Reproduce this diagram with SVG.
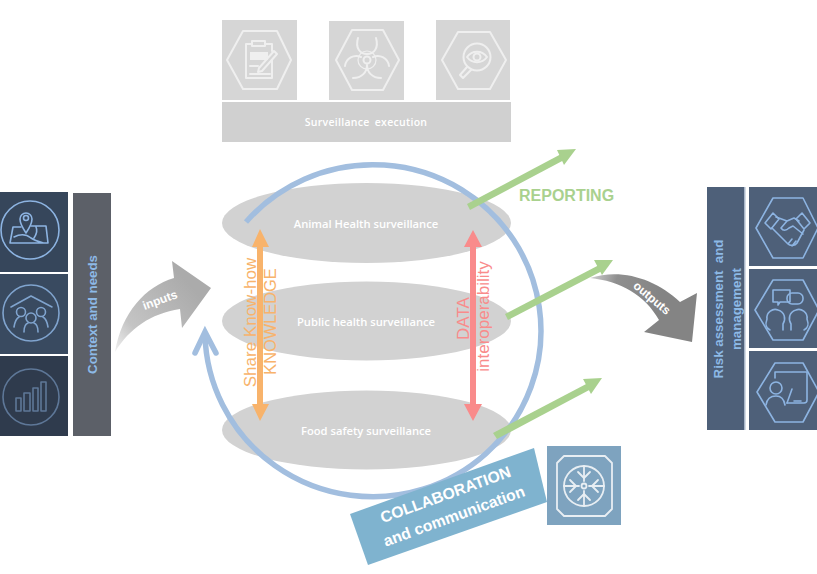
<svg xmlns="http://www.w3.org/2000/svg" width="817" height="574" viewBox="0 0 817 574">
<style>
text{font-family:"Liberation Sans",Arial,sans-serif}
.ell{fill:#d2d2d2}
.lbl{fill:#fff;font-family:"Open Sans","Liberation Sans",sans-serif;font-size:11.200px;font-weight:600;text-anchor:middle;dominant-baseline:central}
.ic{fill:none;stroke-linejoin:round;stroke-linecap:round}
.top{stroke:#efefef;stroke-width:2}
.rgt{stroke:#8db4e2;stroke-width:1.600}
.lft{stroke:#8db4e2;stroke-width:1.600}
.mid{text-anchor:middle;dominant-baseline:central}
.ora{fill:#f8b36b;font-size:17px}
.red{fill:#f98b8b;font-size:17px}
.grn{fill:#a9d18e}
</style>
<defs>
<linearGradient id="ing" gradientUnits="userSpaceOnUse" x1="115" y1="352" x2="190" y2="285">
<stop offset="0" stop-color="#f0f0f0"/><stop offset="0.3" stop-color="#c4c4c4"/><stop offset="1" stop-color="#ababab"/>
</linearGradient>
<linearGradient id="outg" gradientUnits="userSpaceOnUse" x1="590" y1="278" x2="660" y2="300">
<stop offset="0" stop-color="#cfcfcf"/><stop offset="0.35" stop-color="#8f8f8f"/><stop offset="1" stop-color="#848484"/>
</linearGradient>
</defs>

<g id="surveillance-execution">
<rect x="222" y="20" width="75" height="80" fill="#d6d6d6"/>
<rect x="329" y="21" width="75" height="79" fill="#d6d6d6"/>
<rect x="436" y="20" width="74" height="80" fill="#d6d6d6"/>
<rect x="222" y="102" width="289" height="40" fill="#d0d0d0"/>
<text class="lbl" x="366" y="122" style="font-size:10.500px;word-spacing:2px;letter-spacing:.3px">Surveillance execution</text>
<g class="ic top">
<path d="M227 60L243 31H277L291 60L277 89H243Z"/>
<path d="M252 44H246V78H272V60M265 44H272V51M252 41H265V46H252Z"/>
<path d="M250 52H268V60H250Z" fill="#efefef" stroke="none"/>
<path d="M250 66H258M250 74H270"/>
<path d="M259 68L274 51L277 54L262 71L258 72Z"/>
</g>
<g class="ic top">
<path d="M336 60L352 30H383L399 60L383 90H352Z"/>
<circle cx="367" cy="60" r="3.500"/>
<path d="M358 38C355 48 360 54 367 54C374 54 379 48 376 38"/>
<path d="M345 66C346 58 354 54 361 57M389 66C388 58 380 54 373 57"/>
<path d="M353 78C362 78 367 72 367 65C367 72 372 78 381 78"/>
<circle cx="367" cy="60" r="9" stroke-width="1.200"/>
</g>
<g class="ic top">
<path d="M442 60L458 32H490L506 60L490 89H458Z"/>
<circle cx="477" cy="57" r="13.500"/>
<path d="M467 67L460 75L463 78L471 70"/>
<path d="M467 57C472 50 482 50 487 57C482 64 472 64 467 57Z"/>
<circle cx="477" cy="57" r="3.500"/>
</g>
</g>

<g id="animal-health"><ellipse class="ell" cx="366.500" cy="223" rx="144.500" ry="40"/>
<text class="lbl" x="366" y="223">Animal Health surveillance</text></g>
<g id="public-health"><ellipse class="ell" cx="366.500" cy="321" rx="144.500" ry="39.500"/>
<text class="lbl" x="366" y="321">Public health surveillance</text></g>
<g id="food-safety"><ellipse class="ell" cx="366.500" cy="430" rx="144.500" ry="39.500"/>
<text class="lbl" x="366" y="430">Food safety surveillance</text></g>

<g id="context-needs">
<rect x="0" y="192" width="68" height="80" fill="#36465b"/>
<rect x="0" y="274" width="68" height="80" fill="#394a60"/>
<rect x="0" y="356" width="68" height="80" fill="#2f3b4d"/>
<rect x="73" y="193" width="38" height="243" fill="#5c6068"/>
<text transform="translate(92 314.500) rotate(-90)" class="mid" fill="#8db9e6" font-size="13.300" font-weight="bold">Context and needs</text>
<g class="ic lft">
<circle cx="30" cy="230" r="29"/>
<path d="M26 233C22 227 20 223 20 219A6 6 0 0 1 32 219C32 223 30 227 26 233Z"/>
<circle cx="26" cy="218" r="2.500"/>
<path d="M21 227H13L10 243H48L46 226H31M14 237C20 234 26 234 31 238C35 241 40 242 44 243M36 227C38 231 36 235 34 238"/>
</g>
<g class="ic lft" opacity=".85">
<circle cx="31" cy="313" r="28"/>
<path d="M11 307L31 296L52 307"/>
<circle cx="21" cy="312" r="4.500"/><circle cx="41" cy="312" r="4.500"/><circle cx="31" cy="318" r="5"/>
<path d="M14 327C15 321 17 318 19 317M48 327C47 321 45 318 43 317M24 332C24 327 25 324 28 323M38 332C38 327 37 324 34 323"/>
</g>
<g class="ic lft" opacity=".5">
<circle cx="31" cy="397" r="28"/>
<rect x="16" y="398" width="5" height="13"/><rect x="24" y="393" width="6" height="18"/><rect x="33" y="388" width="5" height="23"/><rect x="41" y="382" width="5" height="29"/>
</g>
</g>

<g id="risk-assessment">
<rect x="707" y="187" width="38" height="243" fill="#4e6079"/>
<rect x="744" y="187" width="1.500" height="243" fill="#a9b7c9"/>
<rect x="749" y="187" width="68" height="79" fill="#4e6079"/>
<rect x="749" y="269" width="68" height="79" fill="#4e6079"/>
<rect x="749" y="351" width="68" height="79" fill="#4e6079"/>
<text transform="translate(718 309) rotate(-90)" class="mid" fill="#8db9e6" font-size="13.300" font-weight="bold" xml:space="preserve">Risk assessment  and</text>
<text transform="translate(736 309) rotate(-90)" class="mid" fill="#8db9e6" font-size="13.300" font-weight="bold">management</text>
<g class="ic rgt">
<path d="M756 228L773 198H803L818 228L803 258H773Z"/>
<path d="M765 223L773 213L779 219L771 229ZM810 223L802 213L796 219L804 229Z"/>
<path d="M776 217L787 221L794 218L799 221M772 228L788 244C790 246 795 246 797 243L804 230M787 221L781 228C783 231 786 231 789 228L793 226L803 234M788 244L792 239M792 246L796 241"/>
</g>
<g class="ic rgt">
<path d="M755 310L773 280H803L819 310L803 340H773Z"/>
<path d="M773 290H790V302H780L778 305V302H773Z"/>
<rect x="787" y="293" width="16" height="11" rx="5"/>
<path d="M770 330C764 327 766 322 767 319C766 312 773 308 778 310C785 312 786 319 783 324V330"/>
<path d="M804 330C810 327 808 322 807 319C808 312 801 308 796 310C789 312 788 319 791 324V330"/>
</g>
<g class="ic rgt">
<path d="M757 392L775 363H803L819 392L803 422H775Z"/>
<path d="M775 378V372H807V400C807 402 806 403 804 403H787"/>
<circle cx="776" cy="388" r="6"/>
<path d="M766 405C767 398 771 396 776 396C781 396 784 399 785 405M787 403L792 389M794 401H801"/>
</g>
</g>

<g id="inputs">
<path d="M115 352C122 312 145 287 174 278L172 261L211 288L182 328L180 309C150 314 130 328 115 352Z" fill="url(#ing)"/>
<text transform="translate(160 300) rotate(-20)" class="mid" fill="#fff" font-size="12" font-weight="bold">inputs</text>
</g>

<g id="outputs">
<path d="M590 278C620 268 655 278 680 302L697 293L692 342L644 332L659 320C645 295 620 281 590 278Z" fill="url(#outg)"/>
<text transform="translate(652 298) rotate(40)" class="mid" fill="#fff" font-size="12" font-weight="bold">outputs</text>
</g>

<g id="connectors">
<path d="M246 222A168 166 0 1 1 205 335" fill="none" stroke="#a2bedf" stroke-width="5.500"/>
<path d="M195 353L205 332L216 353" fill="none" stroke="#a2bedf" stroke-width="5.500" stroke-linecap="round"/>
<path d="M257 247H263V404H257Z" fill="#f8b36b"/>
<path d="M260 229L269 247H252ZM260 421L269 404H252Z" fill="#f8b36b"/>
<path d="M470 247H476V404H470Z" fill="#f98b8b"/>
<path d="M473 230L482 247H464ZM473 421L482 404H464Z" fill="#f98b8b"/>
<g fill="#a9d18e">
<path d="M467 204L563 153L566 159L470 210Z"/><path d="M576 149L557 150L564 165Z"/>
<path d="M505 314L601 264L604 270L508 320Z"/><path d="M613 260L594 260L602 275Z"/>
<path d="M493 433L590 382L593 388L497 439Z"/><path d="M602 378L583 379L591 394Z"/>
</g>
</g>

<text transform="translate(250 322.500) rotate(-90)" class="mid ora">Share Know-how</text>
<text transform="translate(270 321.500) rotate(-90)" class="mid ora" style="font-size:16.400px">KNOWLEDGE</text>
<text transform="translate(463 318.500) rotate(-90)" class="mid red">DATA</text>
<text transform="translate(483 316.500) rotate(-90)" class="mid red">interoperability</text>
<text x="519" y="201" class="grn" font-size="16" font-weight="bold">REPORTING</text>

<g id="collaboration">
<path d="M350 514L534 448L547 502L368 565Z" fill="#7fb3cf"/>
<text transform="translate(445.500 494.500) rotate(-20)" class="mid" fill="#fff" font-size="15.800" font-weight="bold">COLLABORATION</text>
<text transform="translate(454 516) rotate(-20)" class="mid" fill="#fff" font-size="15.800" font-weight="bold">and communication</text>
<rect x="547" y="446" width="74" height="79" fill="#7ea3bf"/>
<g class="ic" stroke="#e8eef3" stroke-width="1.800">
<path d="M564 456H605L612 463V509L605 516H564L557 509V463Z"/>
<circle cx="584" cy="486" r="20"/>
<circle cx="584" cy="486" r="2.500"/>
<path d="M584 466V481M584 491V506M564 486H579M589 486H604"/>
<path d="M578 472L584 478L590 472M578 500L584 494L590 500M570 480L576 486L570 492M598 480L592 486L598 492"/>
</g>
</g>
</svg>
